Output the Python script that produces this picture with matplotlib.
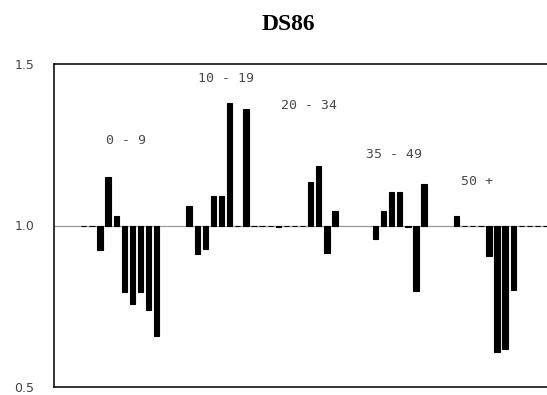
import matplotlib
matplotlib.use("Agg")
import matplotlib.pyplot as plt
import numpy as np

# ---- data (relative values, baseline 1.0) ----
group_labels = ["0 - 9", "10 - 19", "20 - 34", "35 - 49", "50 +"]
vals_0_9 = [1.0, 1.0, 0.925, 1.149, 1.029, 0.795, 0.756, 0.795, 0.737, 0.658]
vals_10_19 = [1.06, 0.911, 0.928, 1.09, 1.09, 1.38, 1.0, 1.362, 1.0, 1.0, 1.0]
vals_20_34 = [0.995, 1.0, 1.0, 1.0, 1.134, 1.185, 0.914, 1.046]
vals_35_49 = [0.957, 1.046, 1.105, 1.105, 0.994, 0.797, 1.129]
vals_50p = [1.028, 0.997, 1.0, 1.0, 0.907, 0.607, 0.619, 0.80, 1.0, 1.0, 1.0, 1.0]
ytick_vals = [0.5, 1.0, 1.5]
ytick_labels = ["0.5", "1.0", "1.5"]

# ---- layout ----
group_values = [vals_0_9, vals_10_19, vals_20_34, vals_35_49, vals_50p]
group_starts = [-2, 11, 22, 34, 44]
label_pos = [(3.2, 1.262), (15.6, 1.455), (25.8, 1.372), (36.3, 1.219), (46.5, 1.135)]

fig = plt.figure(figsize=(5.47, 3.95), dpi=100)
ax = fig.add_axes([54 / 547, 1 - 387 / 395, 1 - 54 / 547 + 0.002, (387 - 64) / 395])

ax.axhline(1.0, color="#9a9a9a", lw=0.9, zorder=1)

for start, vals in zip(group_starts, group_values):
    x = start + np.arange(len(vals))
    v = np.array(vals)
    ax.bar(x, v - 1.0, bottom=1.0, width=0.66, color="black",
           edgecolor="black", linewidth=0.8, zorder=2)

for lab, (lx, ly) in zip(group_labels, label_pos):
    ax.text(lx, ly, lab, ha="center", va="center", fontsize=9.5,
            family="DejaVu Sans Mono", color="#4a4a4a")

ax.set_xlim(-5.68, 55.3)
ax.set_ylim(0.5, 1.5)
ax.set_xticks([])
ax.set_yticks(ytick_vals)
ax.set_yticklabels(ytick_labels, fontsize=9, color="#444444", family="DejaVu Sans")
ax.tick_params(axis="y", length=0, pad=14)
ax.spines["right"].set_visible(False)
for s in ["left", "top", "bottom"]:
    ax.spines[s].set_linewidth(1.1)
    ax.spines[s].set_color("black")

fig.text(288 / 547, 1 - 24 / 395, "DS86", ha="center", va="center",
         fontsize=17, fontweight="bold", family="Liberation Serif")

fig.savefig("out.png", dpi=100)
